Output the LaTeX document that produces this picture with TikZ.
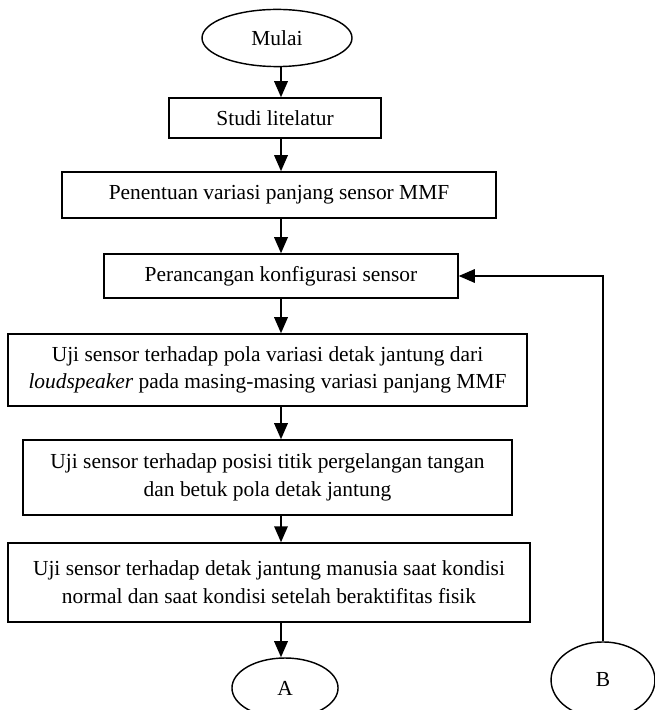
\documentclass[tikz,border=0pt]{standalone}
\usepackage{fontspec}
\setmainfont{Liberation Serif}
\usetikzlibrary{shapes.geometric,arrows.meta}

\tikzset{
  prosesbox/.style={draw, line width=0.8pt, align=center, inner sep=0pt},
  terminal/.style={draw, ellipse, line width=0.8pt, inner sep=0pt},
  panah/.style={-{Triangle[length=9pt,width=7.5pt]}, line width=1.2pt},
}

\begin{document}
\begin{tikzpicture}[x=0.56pt, y=-0.56pt, font=\fontsize{12}{15.5}\selectfont]
        \useasboundingbox (0,0) rectangle (654,710);
        \coordinate (spine) at (281,0);

        % Start
        \node[terminal, minimum width=84pt, minimum height=32pt] (mulai) at (277,38) {Mulai};

        % Process boxes
        \node[prosesbox, minimum width=118.7pt, minimum height=22.4pt] (studi) at (275,118) {Studi litelatur};
        \node[prosesbox, minimum width=243pt, minimum height=25.8pt] (tentu) at (279,195) {Penentuan variasi panjang sensor MMF};
        \node[prosesbox, minimum width=198.2pt, minimum height=24.6pt] (rancang) at (281,276) {Perancangan konfigurasi sensor};
        \node[prosesbox, minimum width=290.6pt, minimum height=40.3pt] (uji1) at (267.5,370) {Uji sensor terhadap pola variasi detak jantung dari\\\textit{loudspeaker} pada masing-masing variasi panjang MMF};
        \node[prosesbox, minimum width=273.8pt, minimum height=42pt] (uji2) at (267.5,477.5) {Uji sensor terhadap posisi titik pergelangan tangan\\dan betuk pola detak jantung};
        \node[prosesbox, minimum width=292.3pt, minimum height=44.2pt] (uji3) at (269,582.5) {Uji sensor terhadap detak jantung manusia saat kondisi\\normal dan saat kondisi setelah beraktifitas fisik};

        % Connectors
        \node[terminal, minimum width=59.4pt, minimum height=33.6pt] (A) at (285,688) {A};
        \node[terminal, minimum width=58.2pt, minimum height=42.6pt] (B) at (603,680) {B};

        % Arrows
        \draw[panah] (mulai.south -| spine) -- (studi.north -| spine);
        \draw[panah] (studi.south -| spine) -- (tentu.north -| spine);
        \draw[panah] (tentu.south -| spine) -- (rancang.north -| spine);
        \draw[panah] (rancang.south -| spine) -- (uji1.north -| spine);
        \draw[panah] (uji1.south -| spine) -- (uji2.north -| spine);
        \draw[panah] (uji2.south -| spine) -- (uji3.north -| spine);
        \draw[panah] (uji3.south -| spine) -- (A.north -| spine);
        \draw[panah, line width=1pt] (B.north) |- (rancang.east);
\end{tikzpicture}
\end{document}
